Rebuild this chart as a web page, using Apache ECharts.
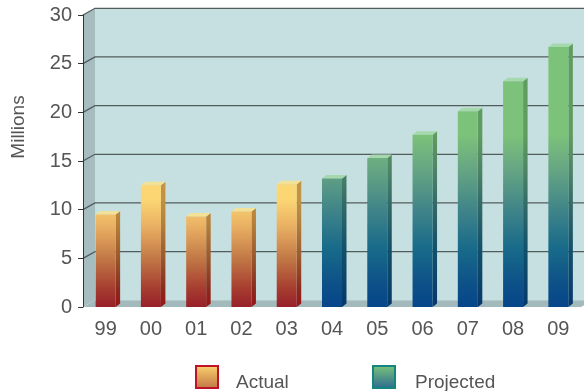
<!DOCTYPE html>
<html>
<head>
<meta charset="utf-8">
<script src="https://cdn.jsdelivr.net/npm/echarts@6/dist/echarts.min.js"></script>
<style>
html, body { margin: 0; padding: 0; background: #fff; }
#chart { width: 584px; height: 391px; }
</style>
</head>
<body>
<div id="chart"></div>
<script>
// categories (years) and values in millions
const years = ['99', '00', '01', '02', '03', '04', '05', '06', '07', '08', '09'];
const actualValues = [9.5, 12.5, 9.3, 9.8, 12.6, null, null, null, null, null, null];
const projectedValues = [null, null, null, null, null, 13.2, 15.3, 17.7, 20.1, 23.2, 26.7];
const yMin = 0, yMax = 30, yStep = 5;

const FONT = '"Liberation Sans", Arial, sans-serif'
const WALL_DX = 12, WALL_DY = -6.7
const BAR_DX = 4.5, BAR_DY = -3.5, BAR_W = 20

function toData(values) {
    let out = []
    values.forEach(function (v, i) {
        if (v != null) out.push([i, v])
    })
    return out
}

function grad(cs, stops) {
    // global gradient, same colour at the same height for every bar
    return new echarts.graphic.LinearGradient(0, cs.y, 0, cs.y + cs.height,
        stops.map(function (s) { return { offset: s[0], color: s[1] } }), true)
}

const actualFront = [[0, '#fdd873'], [0.63, '#fcd673'], [0.72, '#eab264'], [0.84, '#c07544'], [0.94, '#a53b2f'], [1, '#97202a']]
const actualSide = [[0, '#c39242'], [0.63, '#c39242'], [0.72, '#b47d3a'], [0.84, '#98552b'], [0.94, '#8a2a1e'], [1, '#9a1414']]
const projFront = [[0, '#7dc27a'], [0.41, '#7dc27a'], [0.53, '#66a583'], [0.67, '#3f8489'], [0.80, '#186a8a'], [0.92, '#0d5188'], [1, '#06458a']]
const projSide = [[0, '#5f9c5f'], [0.41, '#5f9c5f'], [0.53, '#4d8466'], [0.67, '#2e6668'], [0.80, '#12516a'], [1, '#06386a']]

function makeBars(front, side, topColor) {
    return function (params, api) {
        let cs = params.coordSys
        let base = api.coord([api.value(0), 0])
        let top = api.coord([api.value(0), api.value(1)])
        let x0 = base[0] - BAR_W / 2
        let x1 = x0 + BAR_W
        let yt = top[1], yb = base[1]
        return {
            type: 'group',
            children: [
                {
                    type: 'polygon',
                    shape: { points: [[x1, yt], [x1 + BAR_DX, yt + BAR_DY], [x1 + BAR_DX, yb + BAR_DY], [x1, yb]] },
                    style: { fill: grad(cs, side) }
                },
                {
                    type: 'polygon',
                    shape: { points: [[x0, yt], [x0 + BAR_DX, yt + BAR_DY], [x1 + BAR_DX, yt + BAR_DY], [x1, yt]] },
                    style: { fill: topColor }
                },
                {
                    type: 'rect',
                    shape: { x: x0, y: yt, width: BAR_W, height: yb - yt },
                    style: { fill: grad(cs, front) }
                }
            ]
        }
    }
}

function renderWalls(params, api) {
    let cs = params.coordSys
    let left = cs.x, right = cs.x + cs.width
    let top = cs.y, bottom = cs.y + cs.height
    let children = [
        {
            type: 'rect',
            shape: { x: left + WALL_DX, y: top + WALL_DY, width: cs.width + 20, height: cs.height },
            style: { fill: '#c6e0e1' }
        },
        {
            type: 'polygon',
            shape: { points: [[left, top], [left + WALL_DX, top + WALL_DY], [left + WALL_DX, bottom + WALL_DY], [left, bottom]] },
            style: { fill: '#a5bdbe' }
        },
        {
            type: 'polygon',
            shape: { points: [[left, bottom], [left + WALL_DX, bottom + WALL_DY], [right + WALL_DX, bottom + WALL_DY], [right, bottom]] },
            style: { fill: '#a3babd' }
        }
    ]
    for (let v = yMin + yStep; v <= yMax; v += yStep) {
        let y = api.coord([0, v])[1]
        children.push({
            type: 'polyline',
            shape: { points: [[left, y], [left + WALL_DX, y + WALL_DY], [right + WALL_DX + 20, y + WALL_DY]] },
            style: { stroke: '#525c5c', lineWidth: 1.3, fill: null }
        })
    }
    return { type: 'group', children: children }
}

var myChart = echarts.init(document.getElementById('chart'))

var option = {
    animation: false,
    grid: { left: 83, right: 3, top: 15, bottom: 84 },
    xAxis: {
        type: 'category',
        data: years,
        axisLine: { show: false },
        axisTick: { show: false },
        axisLabel: { fontSize: 20, color: '#555', fontFamily: FONT, margin: 12 }
    },
    yAxis: {
        type: 'value',
        min: yMin,
        max: yMax,
        interval: yStep,
        axisLine: { show: true, lineStyle: { color: '#333', width: 1 } },
        axisTick: { show: true, length: 5, lineStyle: { color: '#333' } },
        axisLabel: { fontSize: 20, color: '#555', fontFamily: FONT, margin: 11 },
        splitLine: { show: false }
    },
    graphic: [
        {
            type: 'text', x: 19, y: 127, rotation: Math.PI / 2,
            style: { text: 'Millions', fontSize: 19, fill: '#555', fontFamily: FONT, align: 'center', verticalAlign: 'middle' }
        },
        {
            type: 'rect', shape: { x: 196, y: 366, width: 22, height: 22 },
            style: {
                stroke: '#c0102a', lineWidth: 2,
                fill: new echarts.graphic.LinearGradient(0, 0, 0, 1, [{ offset: 0, color: '#fbd36e' }, { offset: 1, color: '#c07444' }])
            }
        },
        {
            type: 'text', x: 236, y: 382.5,
            style: { text: 'Actual', fontSize: 19, fill: '#555', fontFamily: FONT, verticalAlign: 'middle' }
        },
        {
            type: 'rect', shape: { x: 373, y: 366, width: 22, height: 22 },
            style: {
                stroke: '#12857f', lineWidth: 2,
                fill: new echarts.graphic.LinearGradient(0, 0, 0, 1, [{ offset: 0, color: '#7cc47a' }, { offset: 1, color: '#2a6a90' }])
            }
        },
        {
            type: 'text', x: 415, y: 382.5,
            style: { text: 'Projected', fontSize: 19, fill: '#555', fontFamily: FONT, verticalAlign: 'middle' }
        }
    ],
    series: [
        {
            name: 'walls',
            type: 'custom',
            z: -1,
            silent: true,
            renderItem: renderWalls,
            data: [[0, 0]]
        },
        {
            name: 'Actual',
            type: 'custom',
            renderItem: makeBars(actualFront, actualSide, '#f1e297'),
            data: toData(actualValues)
        },
        {
            name: 'Projected',
            type: 'custom',
            renderItem: makeBars(projFront, projSide, '#a6d8ad'),
            data: toData(projectedValues)
        }
    ]
}

myChart.setOption(option)
</script>
</body>
</html>
